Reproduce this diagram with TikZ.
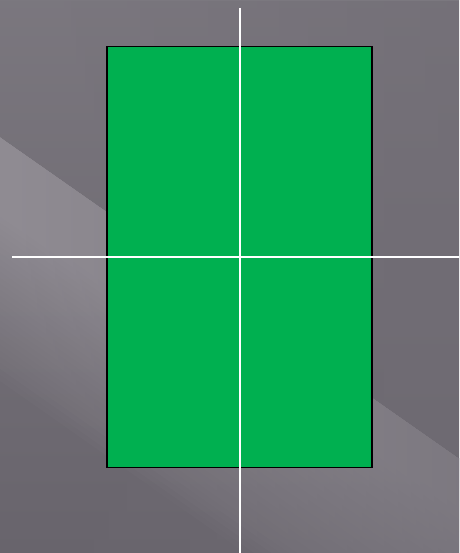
\documentclass[tikz,border=0pt]{standalone}
\usetikzlibrary{positioning,fadings}
\definecolor{bgbase}{RGB}{112,108,116}
\definecolor{bgdark}{RGB}{104,100,108}
\definecolor{bglight}{RGB}{172,168,175}
\definecolor{courtgreen}{RGB}{0,176,80}

\begin{document}
\begin{tikzpicture}[
        x=1pt, y=-1pt,
        court/.style={draw=black, line width=1.6pt, fill=courtgreen, inner sep=0pt,
                minimum width=265pt, minimum height=421pt},
        markline/.style={draw=white, line width=2pt},
    ]

    % Background
    \def\W{459}  % picture width
    \def\H{553}  % picture height
    \useasboundingbox (0,0) rectangle (\W,\H);
    \begin{scope}
        \clip (0,0) rectangle (\W,\H);
        \shade[top color=bgbase!92!white, bottom color=bgdark] (0,0) rectangle (\W,\H);
        % light diagonal band, fading away below its edge
        \begin{scope}[rotate around={-35:(0,137)}]
            \foreach \i in {1,...,40}
                \fill[bglight, opacity=0.035] (-100,137) rectangle (700,137+\i*5);
        \end{scope}
        % ... and to the right
        \fill[bgbase, path fading=west, opacity=0.6] (0,0) rectangle (\W,\H);
    \end{scope}

    % Court
    \node[court] (court) at (239.5,257) {};

    % Centre lines
    \coordinate (top) at (239.5,8);
    \coordinate (bottom) at (239.5,\H);
    \coordinate (left) at (12,257);
    \coordinate (right) at (\W,257);
    \draw[markline] (top) -- (bottom);
    \draw[markline] (left) -- (right);
\end{tikzpicture}
\end{document}
